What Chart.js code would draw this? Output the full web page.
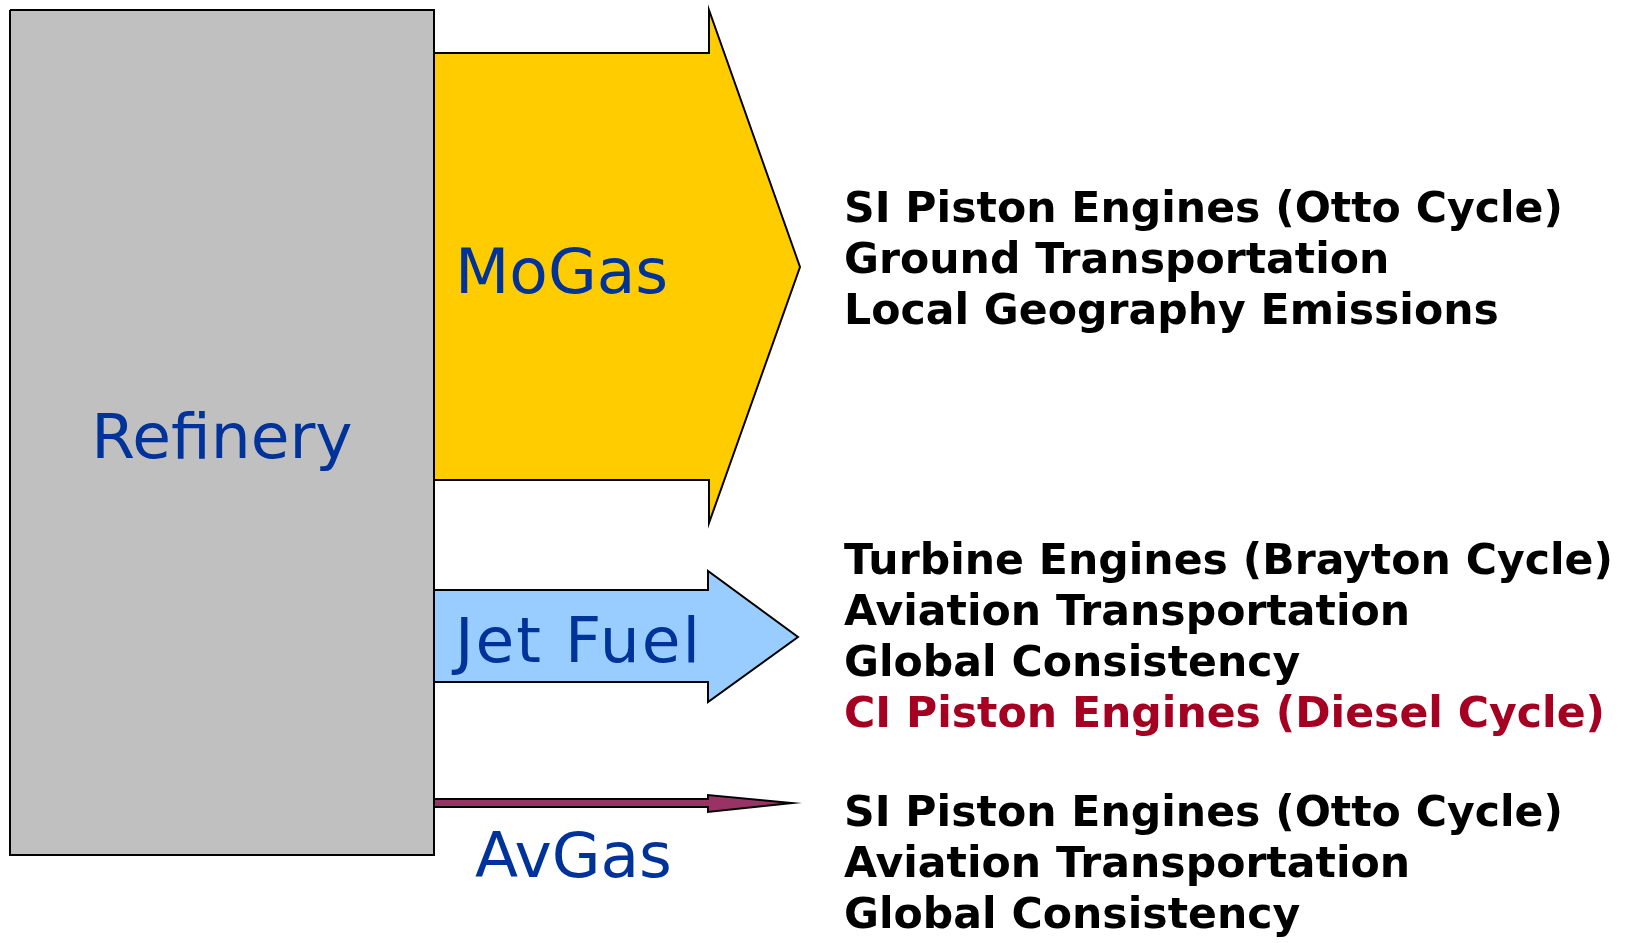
<!DOCTYPE html>
<html>
<head>
<meta charset="utf-8">
<script src="https://cdn.jsdelivr.net/npm/chart.js@4.4.1/dist/chart.umd.min.js"></script>
<style>
  html, body { margin: 0; padding: 0; background: #ffffff; }
  canvas { display: block; }
</style>
</head>
<body>
<canvas id="myChart" width="1633" height="943"></canvas>
<script>
// DATA

const refineryX = [10, 434];
const refineryY = [10, 855];

const flowNames = ["MoGas", "Jet Fuel", "AvGas"];
const shaftTop = [53, 590, 799];
const shaftBottom = [480, 682, 807];
const headTop = [10, 571, 795];
const headBottom = [523, 702, 812];
const headX = [709, 708, 708];
const tipX = [800, 798, 792];
const tipY = [267, 637, 803];

const mogasUses = [
  "SI Piston Engines (Otto Cycle)",
  "Ground Transportation",
  "Local Geography Emissions",
];
const jetUses = [
  "Turbine Engines (Brayton Cycle)",
  "Aviation Transportation",
  "Global Consistency",
  "CI Piston Engines (Diesel Cycle)",
];
const avgasUses = [
  "SI Piston Engines (Otto Cycle)",
  "Aviation Transportation",
  "Global Consistency",
];

// STYLE

const flowColors = ["#FFCC00", "#99CCFF", "#993366"];
const blue = "#003399";
const red = "#A50021";

function arrowPoints(i) {
  const x0 = refineryX[1];
  return [
    { x: x0, y: shaftTop[i] },
    { x: headX[i], y: shaftTop[i] },
    { x: headX[i], y: headTop[i] },
    { x: tipX[i], y: tipY[i] },
    { x: headX[i], y: headBottom[i] },
    { x: headX[i], y: shaftBottom[i] },
    { x: x0, y: shaftBottom[i] },
    { x: x0, y: shaftTop[i] },
  ];
}

const boxPoints = [
  { x: refineryX[0], y: refineryY[0] },
  { x: refineryX[1], y: refineryY[0] },
  { x: refineryX[1], y: refineryY[1] },
  { x: refineryX[0], y: refineryY[1] },
  { x: refineryX[0], y: refineryY[0] },
];

function shape(label, points, color) {
  return {
    label: label,
    data: points,
    showLine: true,
    fill: "shape",
    backgroundColor: color,
    borderColor: "#000000",
    borderWidth: 2,
    borderJoinStyle: "miter",
    pointRadius: 0,
    tension: 0,
    clip: false,
  };
}

const datasets = [shape("Refinery", boxPoints, "#C0C0C0")];
flowNames.forEach((name, i) => {
  datasets.push(shape(name, arrowPoints(i), flowColors[i]));
});

// text labels placed in data coordinates
const labels = [
  { text: "Refinery", x: 222, y: 458, font: "63px 'DejaVu Sans'", color: blue, align: "center" },
  { text: flowNames[0], x: 455, y: 293, font: "63px 'DejaVu Sans'", color: blue, align: "left" },
  { text: flowNames[1], x: 455, y: 662, font: "63px 'DejaVu Sans'", color: blue, align: "left", spacing: "2px" },
  { text: flowNames[2], x: 475, y: 877, font: "63px 'DejaVu Sans'", color: blue, align: "left" },
];

const useFont = "bold 42.6px 'DejaVu Sans'";
mogasUses.forEach((t, i) => {
  labels.push({ text: t, x: 844, y: 222 + i * 51, font: useFont, color: "#000000", align: "left" });
});
jetUses.forEach((t, i) => {
  labels.push({ text: t, x: 844, y: 574 + i * 51, font: useFont, color: i === 3 ? red : "#000000", align: "left" });
});
avgasUses.forEach((t, i) => {
  labels.push({ text: t, x: 844, y: 826 + i * 51, font: useFont, color: "#000000", align: "left" });
});

const textPlugin = {
  id: "diagramText",
  afterDatasetsDraw(chart) {
    const c = chart.ctx;
    const xs = chart.scales.x;
    const ys = chart.scales.y;
    c.save();
    c.textBaseline = "alphabetic";
    labels.forEach((l) => {
      c.font = l.font;
      c.fillStyle = l.color;
      c.textAlign = l.align;
      c.letterSpacing = l.spacing || "0px";
      c.fillText(l.text, xs.getPixelForValue(l.x), ys.getPixelForValue(l.y));
    });
    c.restore();
  },
};

const ctx = document.getElementById("myChart");

new Chart(ctx, {
  type: "scatter",
  data: { datasets: datasets },
  options: {
    responsive: false,
    animation: false,
    devicePixelRatio: 1,
    layout: { padding: 0 },
    plugins: {
      legend: { display: false },
      tooltip: { enabled: false },
    },
    scales: {
      x: { type: "linear", min: 0, max: 1633, display: false },
      y: { type: "linear", min: 0, max: 943, reverse: true, display: false },
    },
  },
  plugins: [textPlugin],
});
</script>
</body>
</html>
